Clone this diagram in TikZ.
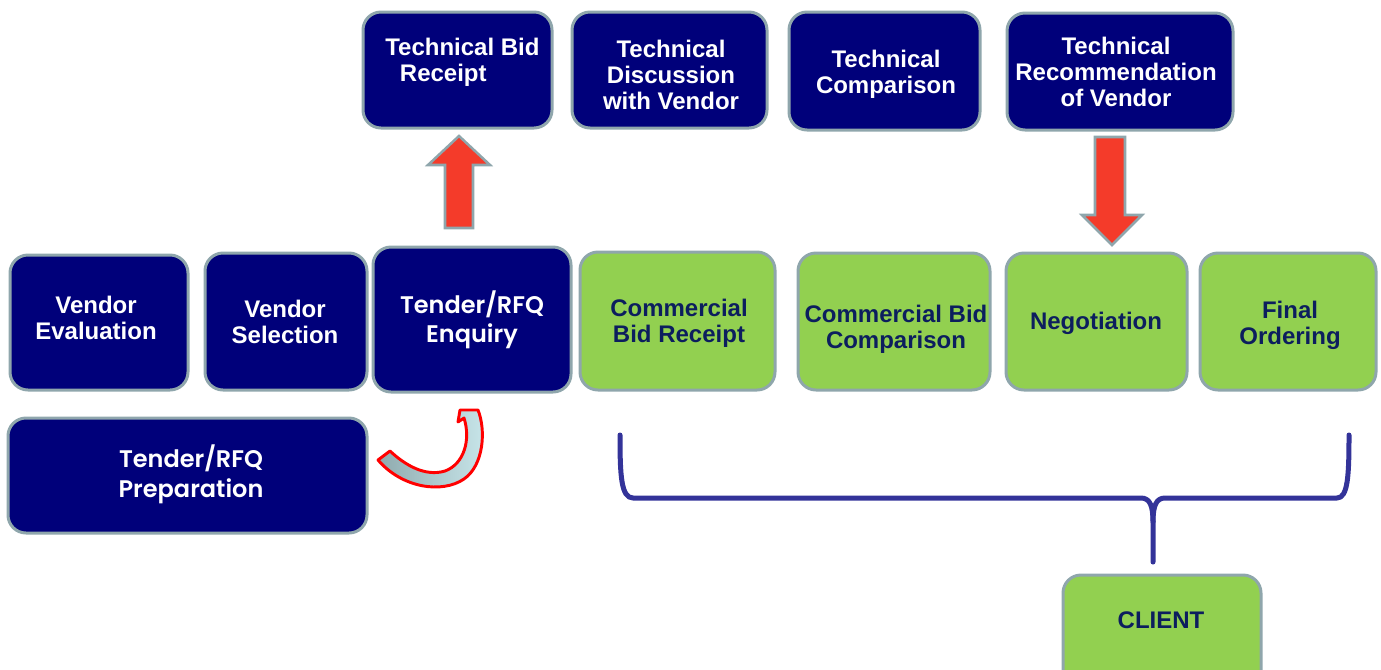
\documentclass[tikz,border=0pt]{standalone}
\usepackage{fontspec}
\setmainfont{Liberation Sans}
\newfontfamily\popfont{Poppins}[BoldFont={Poppins SemiBold}]
\usetikzlibrary{shapes.misc}
\definecolor{navy}{RGB}{0,0,122}
\definecolor{boxgreen}{RGB}{146,208,80}
\definecolor{edge}{RGB}{143,166,172}
\definecolor{gtext}{RGB}{12,30,94}
\definecolor{bracec}{RGB}{51,51,153}
\definecolor{redfill}{RGB}{244,59,42}
\newcommand\ml[1]{\begin{tabular}[t]{@{}c@{}}#1\end{tabular}}
\newcommand\mkbox[6]{\node[#6, minimum width={(#4-#2)*0.75pt}, minimum height={(#5-#3)*0.75pt}] (#1) at ({(#2+#4)/2},{(#3+#5)/2}) {};}
\tikzset{
  basebox/.style={rectangle, rounded corners=13.5pt, draw=edge, line width=2.25pt, inner sep=0pt},
  navybox/.style={basebox, fill=navy},
  greenbox/.style={basebox, fill=boxgreen},
  wlbl/.style={anchor=base, inner sep=0pt, text=white, font=\fontsize{18}{19.5}\selectfont\bfseries},
  plbl/.style={anchor=base, inner sep=0pt, text=white, font=\fontsize{18}{22}\selectfont\popfont\bfseries},
  glbl/.style={anchor=base, inner sep=0pt, text=gtext, font=\fontsize{18}{19.5}\selectfont\bfseries},
  blockarrow/.style={fill=redfill, draw=edge, line width=1.9pt, line join=miter},
  bracestyle/.style={draw=bracec, line width=3.75pt, line cap=round, line join=round},
}
\begin{document}
\begin{tikzpicture}[x=0.75pt,y=-0.75pt]
\useasboundingbox (0,0) rectangle (1381,669);
\clip (0,0) rectangle (1381,669);
% boxes
\mkbox{ve}{10}{255}{188}{390}{navybox}
\mkbox{vs}{205}{253}{367}{390}{navybox}
\mkbox{tre}{373}{247}{571}{392}{navybox}
\mkbox{cbr}{580}{252}{775}{390}{greenbox}
\mkbox{cbc}{798}{253}{990}{390}{greenbox}
\mkbox{neg}{1006}{253}{1187}{390}{greenbox}
\mkbox{fo}{1200}{253}{1376}{390}{greenbox}
\mkbox{trp}{8}{418}{367}{533}{navybox}
\mkbox{tbr}{363}{12}{552}{128}{navybox}
\mkbox{tdv}{572}{12}{767}{128}{navybox}
\mkbox{tc}{789}{12}{980}{130}{navybox}
\mkbox{trv}{1007}{13}{1233}{130}{navybox}
\mkbox{cl}{1063}{575}{1261}{690}{greenbox}
% labels
\node[wlbl] (lve) at (96,313) {\ml{Vendor\\Evaluation}};
\node[wlbl] (lvs) at (285,317) {\ml{Vendor\\Selection}};
\node[plbl] (ltre) at (472,313) {\ml{Tender/RFQ\\Enquiry}};
\node[glbl] (lcbr) at (679,316) {\ml{Commercial\\Bid Receipt}};
\node[glbl] (lcbc) at (896,322) {\ml{Commercial Bid\\Comparison}};
\node[glbl] (lneg) at (1096,329) {Negotiation};
\node[glbl] (lfo) at (1290,318) {\ml{Final\\Ordering}};
\node[plbl, font=\fontsize{18}{22.5}\selectfont\popfont\bfseries] (ltrp) at (191,467) {\ml{Tender/RFQ\\Preparation}};
\node[wlbl, anchor=base west] (ltbr) at (385,55) {\begin{tabular}[t]{@{}l@{}}Technical Bid\\\hspace*{11pt}Receipt\end{tabular}};
\node[wlbl] (ltdv) at (671,57) {\ml{Technical\\Discussion\\with Vendor}};
\node[wlbl] (ltc) at (886,67) {\ml{Technical\\Comparison}};
\node[wlbl] (ltrv) at (1116,54) {\ml{Technical\\Recommendation\\of Vendor}};
\node[glbl] (lcl) at (1161,628) {CLIENT};
% red block arrows
\draw[blockarrow] (445,228) -- (445,165) -- (428,165) -- (459,136) -- (490,165) -- (473,165) -- (473,228) -- cycle;
\draw[blockarrow] (1095,137) -- (1125,137) -- (1125,215) -- (1142,215) -- (1112,245) -- (1082,215) -- (1095,215) -- cycle;
% curved arrow
\draw[draw=red, line width=2.2pt, line join=round, left color={rgb,255:red,143;green,170;blue,174}, right color={rgb,255:red,200;green,230;blue,234}]
  (378,460) .. controls (402,488) and (442,494) .. (464,479)
  .. controls (484,465) and (486,430) .. (478,410)
  -- (460,410) -- (458,422) -- (464,418)
  .. controls (471,440) and (464,464) .. (445,471)
  .. controls (425,477) and (405,465) .. (390,451) -- cycle;
% brace
\coordinate (bl) at (620,435);
\coordinate (br) at (1349,435);
\coordinate (bt) at (1153,562);
\draw[bracestyle] (bl) .. controls (620,475) and (621,498) .. (633,498) -- (1141,498)
  .. controls (1150,498) and (1153,506) .. (1153,522) -- (bt);
\draw[bracestyle] (1153,522) .. controls (1153,506) and (1156,498) .. (1165,498) -- (1337,498)
  .. controls (1348,498) and (1349,475) .. (br);
\end{tikzpicture}
\end{document}
